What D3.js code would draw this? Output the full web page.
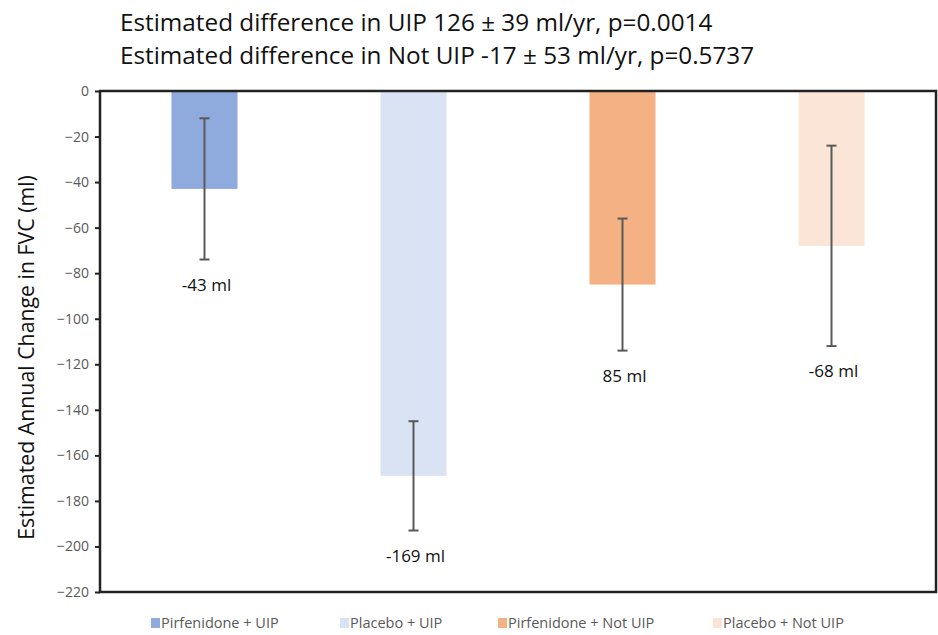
<!DOCTYPE html>
<html><head><meta charset="utf-8">
<script src="https://cdn.jsdelivr.net/npm/d3@7"></script>
<style>body{margin:0;background:#fff}svg{display:block}text{font-family:"Open Sans",sans-serif}</style>
</head><body><svg id="c" width="938" height="635"></svg>
<script>
const categories = ["Pirfenidone + UIP","Placebo + UIP","Pirfenidone + Not UIP","Placebo + Not UIP"];
const values = [-43, -169, -85, -68];
const errors = [31, 24, 29, 44];
const valueLabels = ["-43 ml","-169 ml","85 ml","-68 ml"];
const colors = ["#8faadc","#dae3f3","#f4b183","#fbe5d6"];
const yTicks = [0,-20,-40,-60,-80,-100,-120,-140,-160,-180,-200,-220];
const titleLines = ["Estimated difference in UIP 126 \u00b1 39 ml/yr, p=0.0014","Estimated difference in Not UIP -17 \u00b1 53 ml/yr, p=0.5737"];
const yTitle = "Estimated Annual Change in FVC (ml)";

const svg = d3.select("#c");
const m = {l:100, r:936, t:91, b:592};
const x = d3.scaleBand().domain(categories).range([m.l, m.r]).paddingInner(0.684).paddingOuter(0.342);
const y = d3.scaleLinear().domain([0,-220]).range([m.t, m.b]);

// bars
svg.selectAll("rect.bar").data(categories).join("rect")
  .attr("x", d=>x(d)).attr("width", x.bandwidth())
  .attr("y", y(0)).attr("height", (d,i)=>y(values[i])-y(0))
  .attr("fill", (d,i)=>colors[i]);

// error bars
const eg = svg.append("g").attr("stroke","#595959").attr("stroke-width",2);
categories.forEach((c,i)=>{
  const cx = x(c)+x.bandwidth()/2;
  const hi = y(values[i]+errors[i]), lo = y(values[i]-errors[i]);
  eg.append("line").attr("x1",cx).attr("x2",cx).attr("y1",hi).attr("y2",lo);
  eg.append("line").attr("x1",cx-5).attr("x2",cx+5).attr("y1",hi).attr("y2",hi);
  eg.append("line").attr("x1",cx-5).attr("x2",cx+5).attr("y1",lo).attr("y2",lo);
  svg.append("text").attr("x",cx+2).attr("y",lo+31).attr("text-anchor","middle")
    .attr("font-size",17).attr("fill","#111").text(valueLabels[i]);
});

// axis
const ax = svg.append("g").attr("transform",`translate(${m.l},0)`)
  .call(d3.axisLeft(y).tickValues(yTicks).tickSize(5).tickPadding(6).tickFormat(d3.format("d")));
ax.select(".domain").remove();
ax.selectAll("line").attr("stroke","#222").attr("stroke-width",2);
ax.selectAll("text").attr("font-size",14).attr("fill","#595959").style("font-family","'Open Sans',sans-serif");

// frame
svg.append("rect").attr("x",m.l).attr("y",m.t).attr("width",m.r-m.l).attr("height",m.b-m.t)
  .attr("fill","none").attr("stroke","#222").attr("stroke-width",2.5);

// titles
titleLines.forEach((t,i)=>{
  svg.append("text").attr("x",120).attr("y",31+i*33).attr("font-size",24.3).attr("fill","#111").text(t);
});
svg.append("text").attr("transform",`translate(34,${(m.t+m.b)/2+16}) rotate(-90)`)
  .attr("text-anchor","middle").attr("font-size",21.3).attr("fill","#111").text(yTitle);

// legend
const legX = [151,340,498,713];
categories.forEach((c,i)=>{
  svg.append("rect").attr("x",legX[i]).attr("y",618).attr("width",9).attr("height",10).attr("fill",colors[i]);
  svg.append("text").attr("x",legX[i]+10).attr("y",628).attr("font-size",14.5).attr("fill","#595959").text(c);
});
</script></body></html>
